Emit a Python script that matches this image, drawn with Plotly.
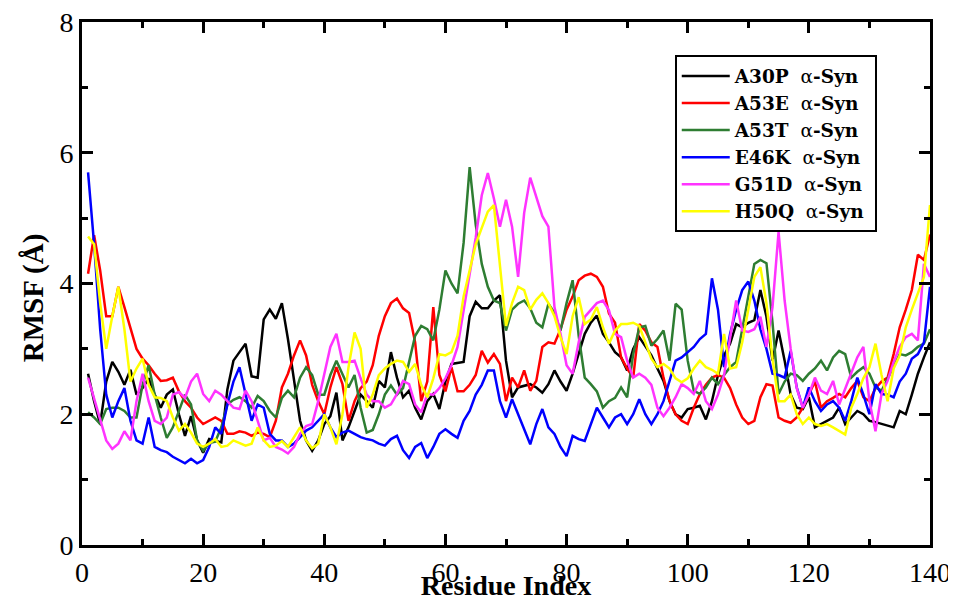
import plotly.graph_objects as go

residues = list(range(1, 141))

a30p = [2.62, 2.2, 1.85, 2.5, 2.8, 2.65, 2.45, 2.68, 2.3, 2.4,
        2.55, 2.3, 2.1, 2.3, 2.38, 2.0, 1.67, 1.97, 1.6, 1.41,
        1.62, 1.6, 1.57, 2.38, 2.82, 2.95, 3.08, 2.58, 2.56, 3.45,
        3.6, 3.46, 3.7, 3.15, 2.56, 1.9, 1.6, 1.44, 1.6, 1.85,
        1.97, 2.33, 1.6, 1.8, 2.05, 2.3, 2.2, 2.1, 2.51, 2.41,
        2.95, 2.56, 2.26, 2.36, 2.1, 1.92, 2.2, 2.31, 2.08, 2.5,
        2.77, 2.78, 2.8, 3.5, 3.72, 3.62, 3.62, 3.74, 3.82, 2.82,
        2.26, 2.41, 2.43, 2.46, 2.41, 2.33, 2.46, 2.67, 2.5, 2.36,
        2.62, 2.92, 3.23, 3.4, 3.51, 3.23, 3.1, 2.95, 2.87, 2.67,
        3.0, 3.18, 3.03, 2.9, 2.7, 2.51, 2.2, 2.0, 1.95, 2.08,
        2.1, 2.13, 1.92, 2.2, 2.6, 2.9, 3.08, 3.38, 3.33, 3.4,
        3.44, 3.9, 3.49, 2.82, 3.28, 2.82, 2.3, 2.1, 2.08, 2.26,
        1.8, 1.85, 1.9, 1.95, 2.1, 1.85, 1.95, 2.05, 2.0, 1.9,
        1.88, 1.85, 1.82, 1.8, 2.05, 2.0, 2.3, 2.62, 2.87, 3.1]

a53e = [4.15, 4.74, 4.2, 3.5, 3.5, 3.95, 3.64, 3.3, 3.0, 2.85,
        2.75, 2.62, 2.51, 2.52, 2.56, 2.35, 2.2, 2.1, 1.95, 1.85,
        1.9, 1.95, 1.9, 1.7, 1.7, 1.74, 1.72, 1.67, 1.72, 1.7,
        1.65, 1.9, 2.41, 2.62, 2.9, 3.13, 2.9, 2.45, 2.2, 2.0,
        2.41, 2.72, 2.46, 1.9, 2.2, 2.4, 2.5, 2.75, 3.2, 3.5,
        3.7, 3.77, 3.62, 3.55, 3.1, 2.2, 2.5, 3.64, 2.6, 2.35,
        2.72, 2.35, 2.35, 2.45, 2.6, 2.97, 2.79, 2.92, 2.77, 2.2,
        2.56, 2.41, 2.67, 2.36, 2.51, 3.03, 3.1, 3.08, 3.3, 3.6,
        3.8, 4.05, 4.12, 4.15, 4.1, 3.95, 3.54, 3.4, 2.87, 2.7,
        2.56, 3.38, 3.28, 3.1, 3.03, 2.56, 2.2, 2.0, 1.9, 1.85,
        2.1, 2.31, 2.45, 2.56, 2.6, 2.56, 2.4, 2.15, 1.95, 1.85,
        1.9, 2.26, 2.46, 2.44, 1.95, 1.9, 1.87, 1.95, 2.1, 2.31,
        2.5, 2.1, 2.2, 2.25, 2.31, 2.26, 2.4, 2.51, 2.26, 2.2,
        2.4, 2.5, 2.56, 2.92, 3.33, 3.6, 3.9, 4.44, 4.36, 4.75]

a53t = [2.03, 1.95, 1.85, 2.08, 2.1, 2.1, 2.05, 1.95, 1.95, 2.45,
        2.75, 2.3, 1.95, 1.64, 1.8, 2.05, 2.3, 2.15, 1.6, 1.44,
        1.56, 1.58, 1.8, 2.15, 2.22, 2.26, 2.2, 2.1, 2.28, 2.2,
        2.05, 1.95, 2.25, 2.36, 2.26, 2.56, 2.72, 2.6, 2.3, 2.3,
        2.6, 2.82, 2.62, 2.41, 2.6, 2.1, 1.72, 1.76, 2.0, 2.3,
        2.44, 2.3, 2.4, 2.8, 3.2, 3.35, 3.3, 3.13, 3.6, 4.2,
        4.0, 3.85, 4.62, 5.78, 4.9, 4.3, 3.95, 3.74, 3.7, 3.28,
        3.6, 3.69, 3.74, 3.62, 3.4, 3.33, 3.69, 3.55, 3.28, 3.7,
        4.05, 3.2, 2.56, 2.46, 2.35, 2.1, 2.2, 2.25, 2.41, 2.26,
        2.92, 3.33, 3.35, 3.05, 3.15, 3.28, 2.82, 3.69, 3.6, 2.82,
        2.36, 2.31, 2.41, 2.56, 2.46, 2.6, 2.72, 2.8, 3.3, 3.8,
        4.3, 4.36, 4.31, 3.4, 2.31, 2.5, 2.62, 2.6, 2.51, 2.62,
        2.7, 2.82, 2.67, 2.87, 2.97, 2.92, 2.56, 2.65, 2.72, 2.62,
        2.41, 2.36, 2.55, 2.72, 2.92, 2.9, 2.95, 3.03, 3.08, 3.3]

e46k = [5.7, 4.6, 3.3, 2.3, 1.95, 2.2, 2.4, 1.9, 1.6, 1.55,
        1.95, 1.5, 1.45, 1.42, 1.35, 1.3, 1.25, 1.32, 1.25, 1.3,
        1.5, 1.8, 1.7, 2.15, 2.5, 2.72, 2.3, 1.9, 2.15, 2.1,
        1.7, 1.6, 1.6, 1.5, 1.55, 1.65, 1.75, 1.8, 1.9, 2.0,
        1.8, 1.65, 1.72, 1.75, 1.7, 1.65, 1.62, 1.6, 1.55, 1.52,
        1.62, 1.67, 1.45, 1.33, 1.5, 1.56, 1.33, 1.5, 1.7, 1.77,
        1.7, 1.64, 1.9, 2.05, 2.3, 2.45, 2.67, 2.67, 2.2, 1.95,
        2.23, 2.0, 1.75, 1.54, 1.85, 2.08, 1.8, 1.7, 1.5, 1.36,
        1.67, 1.62, 1.59, 1.85, 2.1, 1.95, 1.8, 1.95, 2.0, 1.85,
        2.0, 2.23, 2.0, 1.85, 2.0, 2.2, 2.5, 2.82, 2.87, 2.95,
        3.03, 3.15, 3.23, 4.08, 3.6, 2.72, 3.23, 3.6, 3.9, 4.03,
        3.74, 3.3, 3.0, 2.62, 2.6, 2.56, 2.97, 2.41, 2.1, 2.41,
        2.2, 2.05, 2.15, 2.2, 2.1, 1.9, 2.2, 2.56, 2.3, 2.0,
        2.46, 2.31, 2.3, 2.26, 2.5, 2.62, 2.85, 2.92, 3.1, 3.95]

g51d = [2.56, 2.25, 1.9, 1.6, 1.47, 1.55, 1.74, 1.6, 2.2, 2.62,
        2.2, 1.9, 1.85, 1.95, 2.3, 2.34, 2.25, 2.5, 2.62, 2.31,
        2.2, 2.36, 2.3, 2.2, 2.1, 2.08, 2.36, 2.2, 1.9, 1.6,
        1.64, 1.5, 1.46, 1.4, 1.5, 1.7, 1.82, 1.85, 2.2, 2.62,
        3.03, 3.23, 2.8, 2.8, 2.82, 2.55, 2.3, 2.2, 2.2, 2.1,
        2.15, 2.31, 2.51, 2.46, 2.15, 2.03, 2.31, 2.3, 2.4, 2.55,
        2.75, 3.03, 3.59, 4.1, 4.7, 5.35, 5.69, 5.3, 4.87, 5.28,
        4.87, 4.1, 5.08, 5.62, 5.33, 5.03, 4.87, 3.64, 3.23, 2.75,
        2.62, 3.1, 3.49, 3.59, 3.7, 3.74, 3.59, 3.23, 3.18, 2.82,
        2.56, 2.62, 2.56, 2.45, 2.1, 1.97, 2.1, 2.26, 2.46, 2.4,
        2.31, 2.51, 2.2, 2.08, 2.3, 2.6, 3.2, 3.74, 3.28, 3.26,
        3.3, 3.49, 3.03, 3.64, 4.79, 3.74, 3.0, 2.4, 2.1, 2.3,
        2.56, 2.36, 2.31, 2.51, 2.15, 2.4, 2.62, 2.87, 3.03, 2.2,
        1.74, 2.31, 2.51, 2.8, 3.03, 3.18, 3.23, 3.13, 4.3, 4.1]

h50q = [4.72, 4.6, 3.7, 3.0, 3.5, 3.95, 3.3, 2.5, 2.7, 2.85,
        2.45, 2.26, 2.25, 2.2, 1.95, 1.75, 1.85, 1.72, 1.55, 1.5,
        1.55, 1.62, 1.5, 1.52, 1.6, 1.56, 1.52, 1.55, 1.8, 1.6,
        1.5, 1.52, 1.59, 1.5, 1.65, 1.8, 1.6, 1.48, 1.55, 2.0,
        1.8, 1.54, 2.0, 2.72, 3.25, 3.0, 2.1, 2.3, 2.6, 2.7,
        2.77, 2.82, 2.8, 2.65, 2.77, 2.45, 2.26, 2.55, 2.92, 2.9,
        2.95, 3.2, 3.8, 4.2, 4.6, 4.85, 5.1, 5.2, 4.3, 3.35,
        3.7, 3.95, 3.9, 3.6, 3.75, 3.85, 3.7, 3.5, 3.18, 2.92,
        3.5, 3.79, 3.38, 3.45, 3.64, 3.33, 3.08, 3.28, 3.38, 3.38,
        3.4, 3.35, 3.1, 2.85, 2.72, 2.77, 2.7, 2.55, 2.49, 2.55,
        2.7, 2.82, 2.72, 2.68, 2.62, 3.23, 2.7, 2.72, 3.1, 3.6,
        4.1, 4.25, 3.7, 2.85, 2.2, 2.2, 2.3, 2.0, 1.85, 1.95,
        1.85, 1.82, 1.85, 1.8, 1.74, 1.69, 2.1, 2.31, 2.55, 2.72,
        3.08, 2.6, 2.2, 2.7, 2.9, 3.33, 3.6, 3.85, 4.1, 5.2]

series_names = ["A30P", "A53E", "A53T", "E46K", "G51D", "H50Q"]
series_values = [a30p, a53e, a53t, e46k, g51d, h50q]
series_colors = ["#000000", "#ff0000", "#2e7d32", "#0000ff", "#ff33ff", "#ffff00"]

x_ticks = [0, 20, 40, 60, 80, 100, 120, 140]
y_ticks = [0, 2, 4, 6, 8]

NB = "\u00a0"
fig = go.Figure()
for name, vals, col in zip(series_names, series_values, series_colors):
    fig.add_trace(go.Scatter(
        x=residues, y=vals, mode="lines",
        name="<b>" + name + "</b>" + NB * 2 + "α<b>-Syn</b>" + NB,
        line=dict(color=col, width=2.5),
    ))

axis_common = dict(
    showline=True, linewidth=3, linecolor="black", mirror="ticks",
    ticks="inside", ticklen=11, tickwidth=3, tickcolor="black",
    showgrid=False, zeroline=False, ticklabeloverflow="allow",
    tickfont=dict(family="Liberation Serif", size=28, color="black"),
)

fig.update_xaxes(
    range=[0, 140], tickvals=x_ticks,
    minor=dict(ticks="inside", ticklen=6, tickwidth=3, dtick=10, tickcolor="black"),
    title=dict(text="<b>Residue Index</b>",
               font=dict(family="Liberation Serif", size=28, color="black"),
               standoff=0),
    **axis_common,
)
fig.update_yaxes(
    range=[0, 8], tickvals=y_ticks,
    minor=dict(ticks="inside", ticklen=6, tickwidth=3, dtick=1, tickcolor="black"),
    title=dict(text="<b>RMSF (Å)" + NB * 4 + "\u200b</b>",
               font=dict(family="Liberation Serif", size=29, color="black"),
               standoff=8),
    **axis_common,
)

fig.update_layout(
    width=948, height=593,
    margin=dict(l=74, r=26, t=14, b=56, autoexpand=False),
    plot_bgcolor="white", paper_bgcolor="white",
    showlegend=True,
    legend=dict(
        x=0.699, y=0.936, xanchor="left", yanchor="top",
        bgcolor="white", bordercolor="black", borderwidth=2,
        font=dict(family="DejaVu Serif", size=18.5, color="black"),
        itemwidth=48, tracegroupgap=0,
    ),
)

fig.write_html("out.html")
